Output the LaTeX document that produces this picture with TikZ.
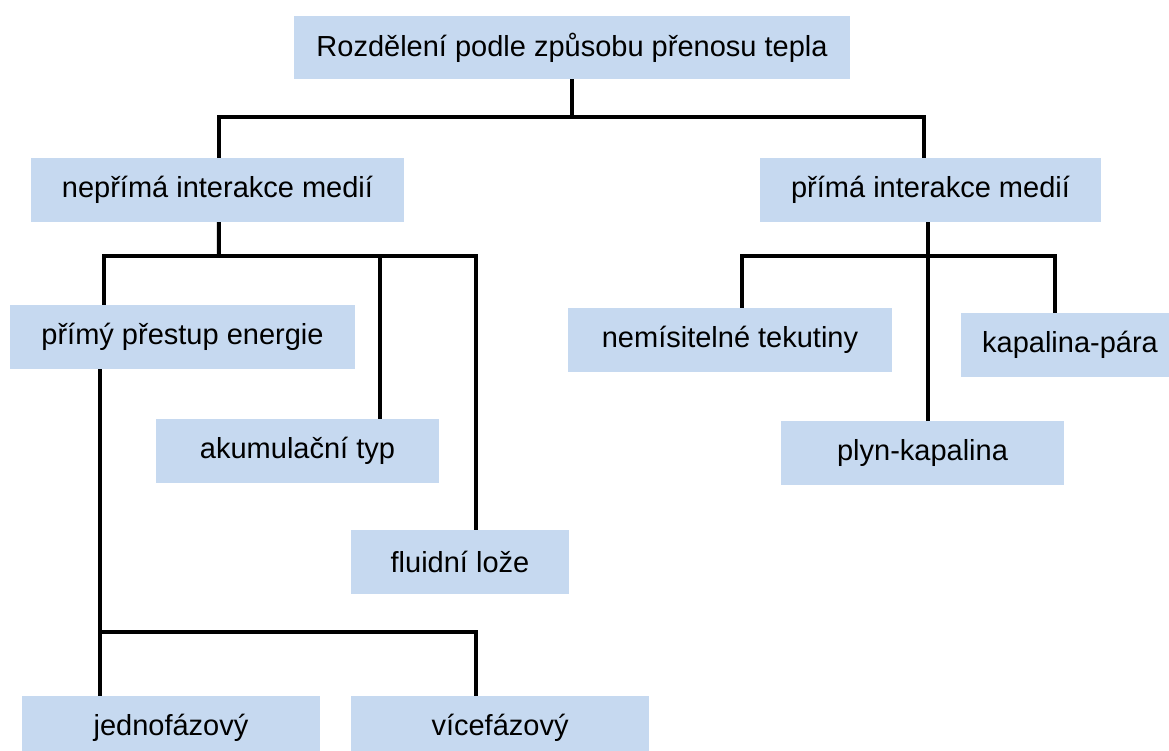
\documentclass[tikz,border=0pt]{standalone}
\usepackage{fontspec}
\setmainfont{Liberation Sans}
\definecolor{boxblue}{HTML}{C6D9F0}
\begin{document}
\begin{tikzpicture}[x=1pt,y=-1pt,
  box/.style={rectangle,fill=boxblue,inner sep=0pt,minimum height=64pt,font=\fontsize{29}{34}\selectfont},
  link/.style={line width=4pt,black,line join=miter}]
\useasboundingbox (0,0) rectangle (1169,751);
\clip (0,0) rectangle (1169,751);
\node[box,minimum width=556pt,minimum height=63pt] (root) at (572,47.5) {Rozdělení podle způsobu přenosu tepla};
\node[box,minimum width=373pt] (nepr) at (217.5,190) {nepřímá interakce medií};
\node[box,minimum width=341pt] (prima) at (930.5,190) {přímá interakce medií};
\node[box,minimum width=345pt] (primy) at (182.5,337) {přímý přestup energie};
\node[box,minimum width=283pt] (akum) at (297.5,451) {akumulační typ};
\node[box,minimum width=218pt] (fluid) at (460,562) {fluidní lože};
\node[box,minimum width=298pt] (jedno) at (171,728) {jednofázový};
\node[box,minimum width=298pt] (vice) at (500,728) {vícefázový};
\node[box,minimum width=324pt] (nemis) at (730,340) {nemísitelné tekutiny};
\node[box,minimum width=218pt] (kapal) at (1070,345) {kapalina-pára};
\node[box,minimum width=283pt] (plyn) at (922.5,453) {plyn-kapalina};
% level 1
\coordinate (j1) at (572,117);
\draw[link] (root.south) -- (j1);
\draw[link] ([xshift=188pt]nepr.north west) |- (j1) -| ([xshift=164pt]prima.north west);
% left branch
\coordinate (j2) at (219,256);
\draw[link] ([xshift=188pt]nepr.south west) -- (j2);
\draw[link] ([xshift=94pt]primy.north west) |- (j2) -| ([xshift=125pt]fluid.north west);
\draw[link] ([xshift=224pt]akum.north west) -- ([xshift=224pt]akum.north west |- j2);
% bottom branch
\coordinate (j3) at (100,632);
\draw[link] ([xshift=90pt]primy.south west) -- ([xshift=78pt]jedno.north west);
\draw[link] (j3) -| ([xshift=125pt]vice.north west);
% right branch
\coordinate (j4) at (928,256);
\draw[link] ([xshift=168pt]prima.south west) -- ([xshift=147pt]plyn.north west);
\draw[link] ([xshift=174pt]nemis.north west) |- (j4) -| ([xshift=94pt]kapal.north west);
\end{tikzpicture}
\end{document}
